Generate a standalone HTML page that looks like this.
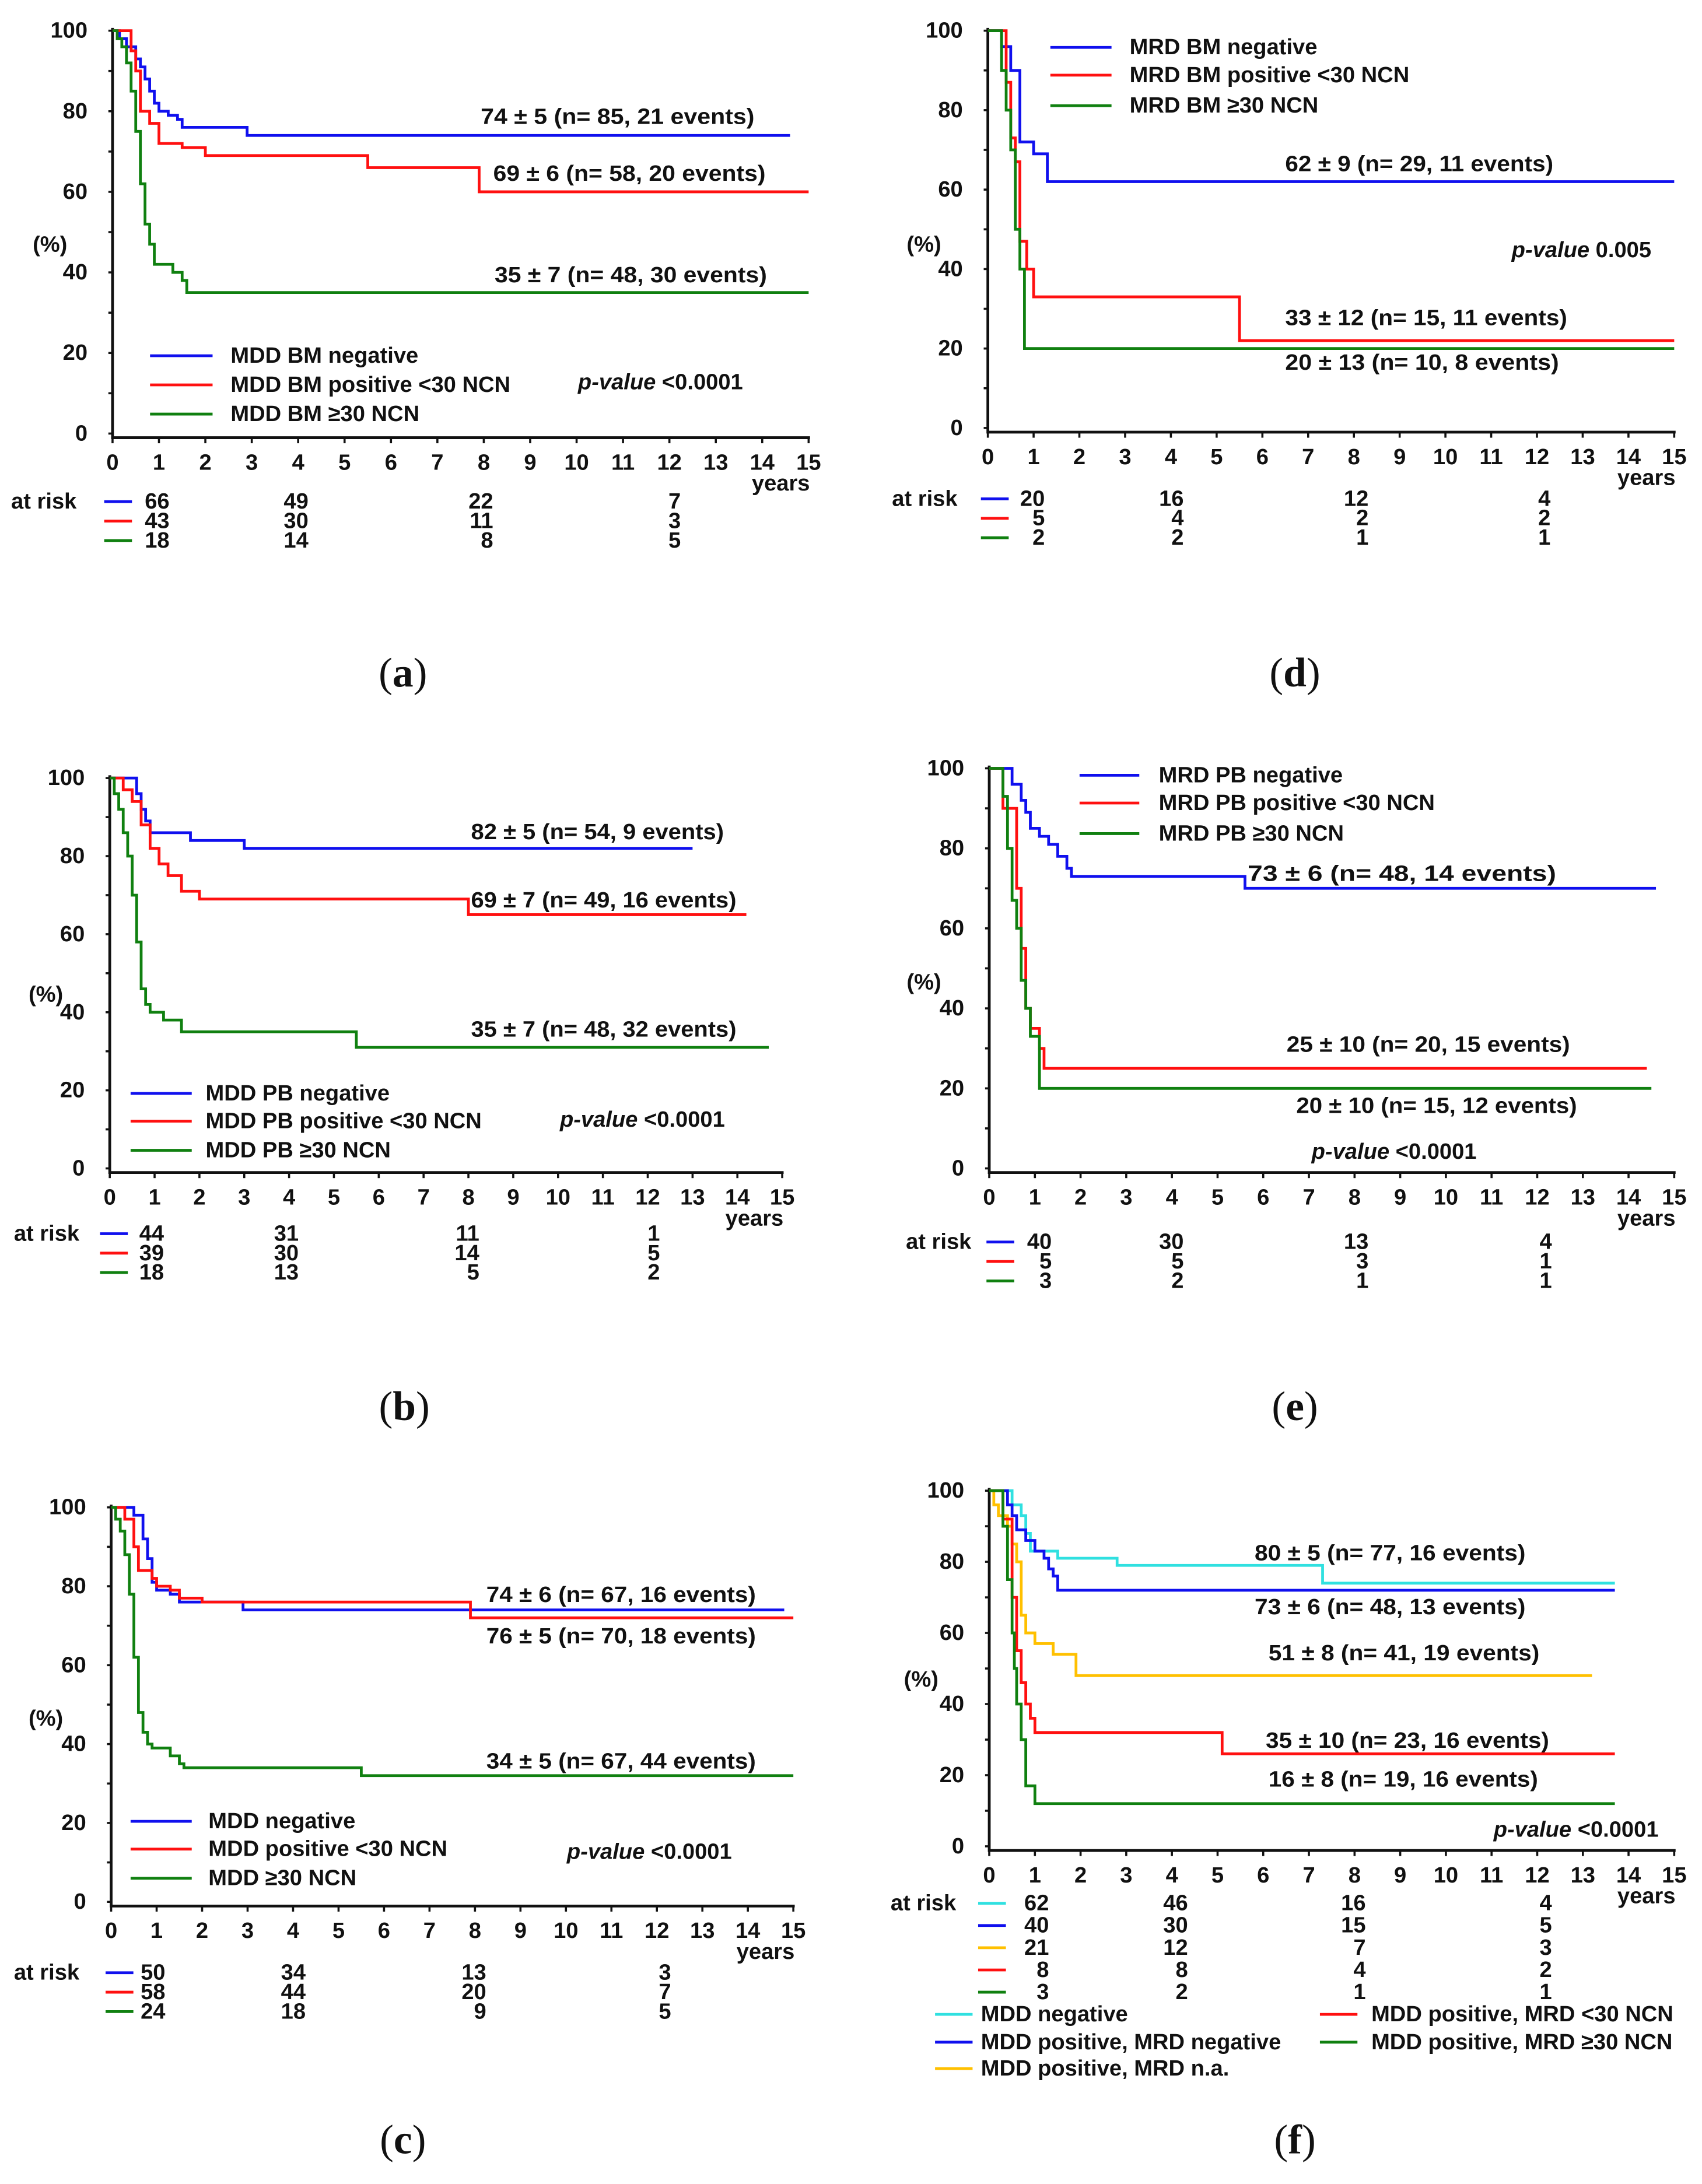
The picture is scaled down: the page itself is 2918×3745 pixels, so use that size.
<!DOCTYPE html>
<html><head><meta charset="utf-8"><style>
html,body{margin:0;padding:0;background:#fff;}
svg{display:block;}
text{font-family:"Liberation Sans",sans-serif;font-weight:bold;fill:#111;}
.cap{font-family:"Liberation Serif",serif;font-weight:normal;font-size:30px;}
</style></head><body>
<svg id="fig" xmlns="http://www.w3.org/2000/svg" width="2918" height="3745" viewBox="0 0 1225 1572"></svg>
<script>
// ---- data (time in years, survival %) ----
const aBlueT=[0,0.15,0.3,0.5,0.6,0.7,0.8,0.9,1.0,1.2,1.4,1.5,2.9,14.6];
const aBlueS=[100,98,96,93,91,88,85,82,80,79,78,76,74,74];
const aRedT=[0,0.4,0.5,0.6,0.8,1.0,1.5,2.0,5.5,7.9,15];
const aRedS=[100,95,90,80,77,72,71,69,66,60,60];
const aGrnT=[0,0.1,0.2,0.3,0.4,0.5,0.6,0.7,0.8,0.9,1.3,1.5,1.6,15];
const aGrnS=[100,98,96,92,85,75,62,52,47,42,40,38,35,35];

const dBlueT=[0,0.3,0.5,0.7,1.0,1.3,15];
const dBlueS=[100,96,90,72,69,62,62];
const dRedT=[0,0.4,0.5,0.6,0.7,0.85,1.0,5.5,15];
const dRedS=[100,87,73,67,47,40,33,22,22];
const dGrnT=[0,0.3,0.4,0.5,0.6,0.7,0.8,15];
const dGrnS=[100,90,80,70,50,40,20,20];

const bBlueT=[0,0.6,0.7,0.8,0.9,1.8,3.0,13.0];
const bBlueS=[100,96,92,89,86,84,82,82];
const bRedT=[0,0.3,0.5,0.7,0.9,1.1,1.3,1.6,2.0,8.0,14.2];
const bRedS=[100,97,94,88,82,78,75,71,69,65,65];
const bGrnT=[0,0.1,0.2,0.3,0.4,0.5,0.6,0.7,0.8,0.9,1.2,1.6,5.5,14.7];
const bGrnS=[100,96,92,86,80,70,58,46,42,40,38,35,31,31];

const eBlueT=[0,0.5,0.7,0.8,0.9,1.1,1.3,1.5,1.7,1.8,5.6,14.6];
const eBlueS=[100,96,92,89,85,83,81,78,75,73,70,70];
const eRedT=[0,0.3,0.4,0.6,0.7,0.8,0.9,1.1,1.2,14.4];
const eRedS=[100,90,90,70,55,40,35,30,25,25];
const eGrnT=[0,0.3,0.4,0.5,0.6,0.7,0.8,0.9,1.1,14.5];
const eGrnS=[100,93,80,67,60,47,40,33,20,20];

const cBlueT=[0,0.5,0.7,0.8,0.9,1.0,1.3,1.5,2.9,14.8];
const cBlueS=[100,98,92,87,81,79,78,76,74,74];
const cRedT=[0,0.3,0.5,0.6,0.9,1.0,1.3,1.5,2.0,7.9,15];
const cRedS=[100,97,90,84,82,80,79,77,76,72,72];
const cGrnT=[0,0.1,0.2,0.3,0.4,0.5,0.6,0.7,0.8,0.9,1.3,1.5,1.6,5.5,15];
const cGrnS=[100,97,94,88,78,62,48,43,40,39,37,35,34,32,32];

const fCyanT=[0,0.5,0.7,0.8,0.9,1.5,2.8,7.3,13.7];
const fCyanS=[100,96,93,88,83,81,79,74,74];
const fBlueT=[0,0.4,0.5,0.6,0.8,1.0,1.2,1.3,1.4,1.5,13.7];
const fBlueS=[100,96,93,89,86,83,81,78,76,72,72];
const fYelT=[0,0.1,0.2,0.4,0.5,0.6,0.7,0.8,1.0,1.4,1.9,13.2];
const fYelS=[100,96,93,90,85,80,65,60,57,54,48,48];
const fRedT=[0,0.3,0.5,0.6,0.7,0.8,0.9,1.0,5.1,13.7];
const fRedS=[100,92,70,55,46,40,36,32,26,26];
const fGrnT=[0,0.3,0.4,0.5,0.55,0.6,0.7,0.8,1.0,13.7];
const fGrnS=[100,90,75,60,50,40,30,17,12,12];

const riskCols=[0.5,4.5,8.5,12.5];
const aRisk=[[66,49,22,7],[43,30,11,3],[18,14,8,5]];
const dRisk=[[20,16,12,4],[5,4,2,2],[2,2,1,1]];
const bRisk=[[44,31,11,1],[39,30,14,5],[18,13,5,2]];
const eRisk=[[40,30,13,4],[5,5,3,1],[3,2,1,1]];
const cRisk=[[50,34,13,3],[58,44,20,7],[24,18,9,5]];
const fRisk=[[62,46,16,4],[40,30,15,5],[21,12,7,3],[8,8,4,2],[3,2,1,1]];

const BLUE='#1010ee',RED='#ff1010',GRN='#108010',CYAN='#30e0e0',YEL='#ffc000';
const NS='http://www.w3.org/2000/svg';
const svg=document.getElementById('fig');
function el(tag,attrs,parent){const e=document.createElementNS(NS,tag);for(const k in attrs)e.setAttribute(k,attrs[k]);(parent||svg).appendChild(e);return e;}
function txt(s,x,y,size,anchor,parent,len){const t=el('text',{x:x,y:y,'font-size':size,'text-anchor':anchor||'start','dominant-baseline':'central'},parent);if(len){t.setAttribute('textLength',len);t.setAttribute('lengthAdjust','spacingAndGlyphs');}t.textContent=s;return t;}

function panel(p){
  const g=el('g',{});
  
  
  const X=t=>p.x0+(p.x15-p.x0)*t/15;
  const Y=s=>p.y0-(p.y0-p.y100)*s/100;
  // axes
  const ax=el('path',{d:`M${p.x0} ${p.y100-2} V${p.y0+3} H${p.x15+1}`,stroke:'#111','stroke-width':2,fill:'none'},g);
  
  
  for(let v=0;v<=100;v+=10){el('line',{x1:p.x0-3,x2:p.x0,y1:Y(v),y2:Y(v),stroke:'#111','stroke-width':1.5},g);
    if(v%20===0){const t=txt(String(v),p.x0-18,Y(v),16,'end',g);}}
  for(let i=0;i<=15;i++){el('line',{x1:X(i),x2:X(i),y1:p.y0+3,y2:p.y0+7,stroke:'#111','stroke-width':1.5},g);
    const t=txt(String(i),X(i),p.y0+21,16,'middle',g);}
  const yr=txt('years',p.x15-20,p.y0+36,16,'middle',g);
  const pc=txt('(%)',p.pctX,p.pctY,16,'middle',g);
  // series
  p.series.forEach((s,i)=>{
    let d=`M${X(s.t[0])} ${Y(s.s[0])}`;
    for(let k=1;k<s.t.length;k++){d+=` H${X(s.t[k])} V${Y(s.s[k])}`;}
    const path=el('path',{d:d,stroke:s.c,'stroke-width':2,fill:'none'},g);
    
    
  });
  // annotations
  p.ann.forEach(a=>{const t=txt(a[0],a[1],a[2],16,'start',g,a[3]);});
  // legend
  p.leg.forEach(l=>{const lg=el('g',{},g);
    el('line',{x1:l[1],x2:l[2],y1:l[4],y2:l[4],stroke:l[5],'stroke-width':2},lg);txt(l[0],l[3],l[4],16,'start',lg);});
  // p-value
  if(p.pv){const t=el('text',{x:p.pv[0],y:p.pv[1],'font-size':16,'dominant-baseline':'central'},g);
    
    const i1=el('tspan',{'font-style':'italic'},t);i1.textContent='p-value';const i2=el('tspan',{},t);i2.textContent=' '+p.pv[2];}
  // at risk
  const ar=txt('at risk',p.arX,p.riskY[0],16,'start',g);
  p.risk.forEach((row,r)=>{
    el('line',{x1:p.rl[0],x2:p.rl[1],y1:p.riskY[r],y2:p.riskY[r],stroke:p.rc[r],'stroke-width':2},g);
    row.forEach((v,c)=>{const t=txt(String(v),p.rcx[c],p.riskY[r],16,'end',g);});
  });
  const cap=el('text',{x:p.cap[0],y:p.cap[1],'text-anchor':'middle','dominant-baseline':'central',class:'cap'},g);
  
  const c1=el('tspan',{},cap);c1.textContent='(';const c2=el('tspan',{'font-weight':'bold'},cap);c2.textContent=p.id;const c3=el('tspan',{},cap);c3.textContent=')';
}

panel({id:'a',x0:81,x15:582,y100:22,y0:312,pctX:36,pctY:176,
 series:[{n:'bm-negative',t:aBlueT,s:aBlueS,c:BLUE},{n:'bm-positive',t:aRedT,s:aRedS,c:RED},{n:'bm-30',t:aGrnT,s:aGrnS,c:GRN}],
 ann:[['74 ± 5 (n= 85, 21 events)',346,84,197],['69 ± 6 (n= 58, 20 events)',355,125,196],['35 ± 7 (n= 48, 30 events)',356,198,196]],
 leg:[['MDD BM negative',108,153,166,256,BLUE],['MDD BM positive <30 NCN',108,153,166,277,RED],['MDD BM ≥30 NCN',108,153,166,298,GRN]],
 pv:[416,275,'<0.0001'],arX:8,riskY:[361,375,389],rl:[75,95],rc:[BLUE,RED,GRN],rcx:[122,222,355,490],risk:aRisk,cap:[290,484]});

panel({id:'d',x0:711,x15:1205,y100:22,y0:308,pctX:665,pctY:176,
 series:[{n:'bm-negative',t:dBlueT,s:dBlueS,c:BLUE},{n:'bm-positive',t:dRedT,s:dRedS,c:RED},{n:'bm-30',t:dGrnT,s:dGrnS,c:GRN}],
 ann:[['62 ± 9 (n= 29, 11 events)',925,118,193],['33 ± 12 (n= 15, 11 events)',925,229,203],['20 ± 13 (n= 10, 8 events)',925,261,197]],
 leg:[['MRD BM negative',756,800,813,34,BLUE],['MRD BM positive <30 NCN',756,800,813,54,RED],['MRD BM ≥30 NCN',756,800,813,76,GRN]],
 pv:[1088,180,'0.005'],arX:642,riskY:[359,373,387],rl:[706,726],rc:[BLUE,RED,GRN],rcx:[752,852,985,1116],risk:dRisk,cap:[932,484]});

panel({id:'b',x0:79,x15:563,y100:560,y0:841,pctX:33,pctY:716,
 series:[{n:'pb-negative',t:bBlueT,s:bBlueS,c:BLUE},{n:'pb-positive',t:bRedT,s:bRedS,c:RED},{n:'pb-30',t:bGrnT,s:bGrnS,c:GRN}],
 ann:[['82 ± 5 (n= 54, 9 events)',339,599,182],['69 ± 7 (n= 49, 16 events)',339,648,191],['35 ± 7 (n= 48, 32 events)',339,741,191]],
 leg:[['MDD PB negative',94,138,148,787,BLUE],['MDD PB positive <30 NCN',94,138,148,807,RED],['MDD PB ≥30 NCN',94,138,148,828,GRN]],
 pv:[403,806,'<0.0001'],arX:10,riskY:[888,902,916],rl:[72,92],rc:[BLUE,RED,GRN],rcx:[118,215,345,475],risk:bRisk,cap:[291,1012]});

panel({id:'e',x0:712,x15:1205,y100:553,y0:841,pctX:665,pctY:707,
 series:[{n:'pb-negative',t:eBlueT,s:eBlueS,c:BLUE},{n:'pb-positive',t:eRedT,s:eRedS,c:RED},{n:'pb-30',t:eGrnT,s:eGrnS,c:GRN}],
 ann:[['73 ± 6 (n= 48, 14 events)',898,629,222],['25 ± 10 (n= 20, 15 events)',926,752,204],['20 ± 10 (n= 15, 12 events)',933,796,202]],
 leg:[['MRD PB negative',777,820,834,558,BLUE],['MRD PB positive <30 NCN',777,820,834,578,RED],['MRD PB ≥30 NCN',777,820,834,600,GRN]],
 pv:[944,829,'<0.0001'],arX:652,riskY:[894,908,922],rl:[710,730],rc:[BLUE,RED,GRN],rcx:[757,852,985,1117],risk:eRisk,cap:[932,1012]});

panel({id:'c',x0:80,x15:571,y100:1085,y0:1369,pctX:33,pctY:1237,
 series:[{n:'mdd-negative',t:cBlueT,s:cBlueS,c:BLUE},{n:'mdd-positive',t:cRedT,s:cRedS,c:RED},{n:'mdd-30',t:cGrnT,s:cGrnS,c:GRN}],
 ann:[['74 ± 6 (n= 67, 16 events)',350,1148,194],['76 ± 5 (n= 70, 18 events)',350,1178,194],['34 ± 5 (n= 67, 44 events)',350,1268,194]],
 leg:[['MDD negative',94,138,150,1311,BLUE],['MDD positive <30 NCN',94,138,150,1331,RED],['MDD ≥30 NCN',94,138,150,1352,GRN]],
 pv:[408,1333,'<0.0001'],arX:10,riskY:[1420,1434,1448],rl:[76,96],rc:[BLUE,RED,GRN],rcx:[119,220,350,483],risk:cRisk,cap:[290,1540]});

panel({id:'f',x0:712,x15:1205,y100:1073,y0:1329,pctX:663,pctY:1209,
 series:[{n:'mdd-negative',t:fCyanT,s:fCyanS,c:CYAN},{n:'mrd-negative',t:fBlueT,s:fBlueS,c:BLUE},{n:'mrd-na',t:fYelT,s:fYelS,c:YEL},{n:'mrd-positive',t:fRedT,s:fRedS,c:RED},{n:'mrd-30',t:fGrnT,s:fGrnS,c:GRN}],
 ann:[['80 ± 5 (n= 77, 16 events)',903,1118,195],['73 ± 6 (n= 48, 13 events)',903,1157,195],['51 ± 8 (n= 41, 19 events)',913,1190,195],['35 ± 10 (n= 23, 16 events)',911,1253,204],['16 ± 8 (n= 19, 16 events)',913,1281,194]],
 leg:[['MDD negative',673,700,706,1450,CYAN],['MDD positive, MRD negative',673,700,706,1470,BLUE],['MDD positive, MRD n.a.',673,700,706,1489,YEL],['MDD positive, MRD <30 NCN',950,977,987,1450,RED],['MDD positive, MRD ≥30 NCN',950,977,987,1470,GRN]],
 pv:[1075,1317,'<0.0001'],arX:641,riskY:[1370,1386,1402,1418,1434],rl:[704,724],rc:[CYAN,BLUE,YEL,RED,GRN],rcx:[755,855,983,1117],risk:fRisk,cap:[932,1540]});
</script>
</body></html>
